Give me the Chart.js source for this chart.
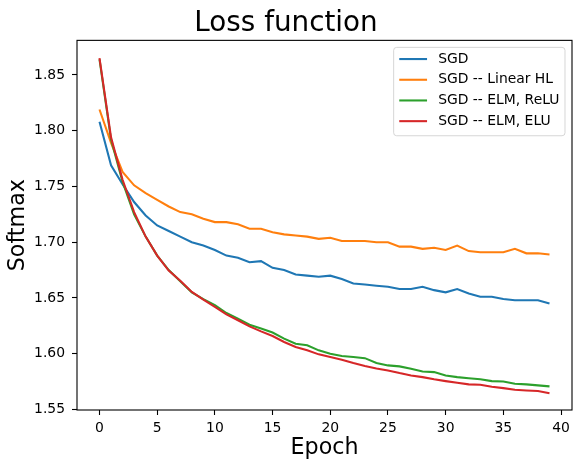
<!DOCTYPE html>
<html>
<head>
<meta charset="utf-8">
<script src="https://cdn.jsdelivr.net/npm/chart.js@4.4.1/dist/chart.umd.min.js"></script>
<style>
  html, body { margin: 0; padding: 0; background: #fff; }
  #wrap { width: 582px; height: 469px; }
</style>
</head>
<body>
<div id="wrap"><canvas id="chart" width="582" height="469"></canvas></div>
<script>
const epochs = [0,1,2,3,4,5,6,7,8,9,10,11,12,13,14,15,16,17,18,19,
                20,21,22,23,24,25,26,27,28,29,30,31,32,33,34,35,36,37,38,39];

const sgd = [1.808,1.769,1.752,1.736,1.724,1.715,1.710,1.705,1.700,1.697,
             1.693,1.688,1.686,1.682,1.683,1.677,1.675,1.671,1.670,1.669,
             1.670,1.667,1.663,1.662,1.661,1.660,1.658,1.658,1.660,1.657,
             1.655,1.658,1.654,1.651,1.651,1.649,1.648,1.648,1.648,1.645];

const sgdLinear = [1.819,1.789,1.763,1.751,1.744,1.738,1.732,1.727,1.725,1.721,
                   1.718,1.718,1.716,1.712,1.712,1.709,1.707,1.706,1.705,1.703,
                   1.704,1.701,1.701,1.701,1.700,1.700,1.696,1.696,1.694,1.695,
                   1.693,1.697,1.692,1.691,1.691,1.691,1.694,1.690,1.690,1.689];

const sgdRelu = [1.864,1.792,1.754,1.725,1.705,1.688,1.675,1.665,1.655,1.649,
                 1.6435,1.6365,1.6315,1.626,1.6225,1.619,1.6135,1.609,1.6075,1.603,
                 1.600,1.598,1.597,1.596,1.5916,1.5895,1.5886,1.5865,1.584,1.5835,
                 1.5805,1.579,1.578,1.577,1.5754,1.575,1.573,1.5725,1.5716,1.5707];

const sgdElu = [1.865,1.794,1.756,1.727,1.705,1.688,1.6745,1.6654,1.6554,1.6485,
                1.642,1.6353,1.630,1.6245,1.620,1.6159,1.6105,1.606,1.603,1.5994,
                1.597,1.5945,1.5916,1.589,1.5868,1.585,1.5826,1.5805,1.579,1.577,
                1.5754,1.574,1.5725,1.5722,1.5704,1.5691,1.5677,1.567,1.5665,1.5646];

const seriesNames = ['SGD', 'SGD -- Linear HL', 'SGD -- ELM, ReLU', 'SGD -- ELM, ELU'];
const xTicks = [0, 5, 10, 15, 20, 25, 30, 35, 40];
const yTicks = [1.55, 1.60, 1.65, 1.70, 1.75, 1.80, 1.85];

const colors = ['#1f77b4', '#ff7f0e', '#2ca02c', '#d62728'];
const FONT = 'DejaVu Sans';

Chart.defaults.color = '#000';
Chart.defaults.font.family = FONT;

const toPoints = arr => arr.map((v, i) => ({ x: epochs[i], y: v }));

// frame round the plot + legend box in the upper right corner
const frameAndLegend = {
  id: 'frameAndLegend',
  afterDatasetsDraw(chart) {
    const { ctx, chartArea: a } = chart;
    ctx.save();
    ctx.strokeStyle = '#000';
    ctx.lineWidth = 1.1;
    ctx.strokeRect(a.left, a.top, a.right - a.left, a.bottom - a.top);

    // legend
    ctx.font = '13.9px ' + FONT;
    const textW = Math.max(...chart.data.datasets.map(d => ctx.measureText(d.label).width));
    const pad = 5.6, handle = 27.8, gap = 11.1, rowH = 20.7;
    const w = pad + handle + gap + textW + pad;
    const h = 88.4;
    const x0 = a.right - 7 - w;
    const y0 = a.top + 7;

    ctx.beginPath();
    ctx.roundRect(x0, y0, w, h, 3);
    ctx.fillStyle = 'rgba(255,255,255,0.8)';
    ctx.fill();
    ctx.strokeStyle = 'rgba(204,204,204,0.8)';
    ctx.lineWidth = 1;
    ctx.stroke();

    chart.data.datasets.forEach((d, i) => {
      const cy = y0 + 11.7 + i * rowH;
      ctx.beginPath();
      ctx.strokeStyle = d.borderColor;
      ctx.lineWidth = 2.08;
      ctx.moveTo(x0 + pad, cy);
      ctx.lineTo(x0 + pad + handle, cy);
      ctx.stroke();
      ctx.fillStyle = '#000';
      ctx.textBaseline = 'middle';
      ctx.textAlign = 'left';
      ctx.fillText(d.label, x0 + pad + handle + gap, cy);
    });
    ctx.restore();
  }
};

const datasets = [sgd, sgdLinear, sgdRelu, sgdElu].map((arr, i) => ({
  label: seriesNames[i],
  data: toPoints(arr),
  borderColor: colors[i],
  backgroundColor: colors[i],
  borderWidth: 2.08,
  pointRadius: 0,
  tension: 0,
  fill: false,
  order: 3 - i // later series on top, like matplotlib
}));

new Chart(document.getElementById('chart'), {
  type: 'line',
  data: { datasets },
  plugins: [frameAndLegend],
  options: {
    responsive: false,
    animation: false,
    layout: { padding: { left: 0, right: 10, top: 0, bottom: 0 } },
    plugins: {
      legend: { display: false },
      tooltip: { enabled: false },
      title: {
        display: true,
        text: 'Loss function',
        font: { size: 27.8, weight: 'normal', family: FONT },
        color: '#000',
        padding: { top: 7, bottom: 0 }
      }
    },
    scales: {
      x: {
        type: 'linear',
        min: -1.95,
        max: 40.95,
        afterBuildTicks: axis => { axis.ticks = xTicks.map(v => ({ value: v })); },
        afterFit: scale => { scale.height = 59; },
        border: { display: false },
        grid: {
          drawOnChartArea: false,
          drawTicks: true,
          tickLength: 5,
          tickColor: '#000',
          tickWidth: 1.1
        },
        ticks: {
          font: { size: 13.9 },
          padding: 5,
          maxRotation: 0,
          callback: v => String(v)
        },
        title: {
          display: true,
          text: 'Epoch',
          font: { size: 22.2 },
          padding: { top: 0, bottom: 7 }
        }
      },
      y: {
        min: 1.5495,
        max: 1.881,
        afterBuildTicks: axis => { axis.ticks = yTicks.map(v => ({ value: v })); },
        afterFit: scale => { scale.width = 77; },
        border: { display: false },
        grid: {
          drawOnChartArea: false,
          drawTicks: true,
          tickLength: 5,
          tickColor: '#000',
          tickWidth: 1.1
        },
        ticks: {
          font: { size: 13.9 },
          padding: 7,
          callback: v => v.toFixed(2)
        },
        title: {
          display: true,
          text: 'Softmax',
          font: { size: 22.2 },
          padding: { top: 5, bottom: 0 }
        }
      }
    }
  }
});
</script>
</body>
</html>
